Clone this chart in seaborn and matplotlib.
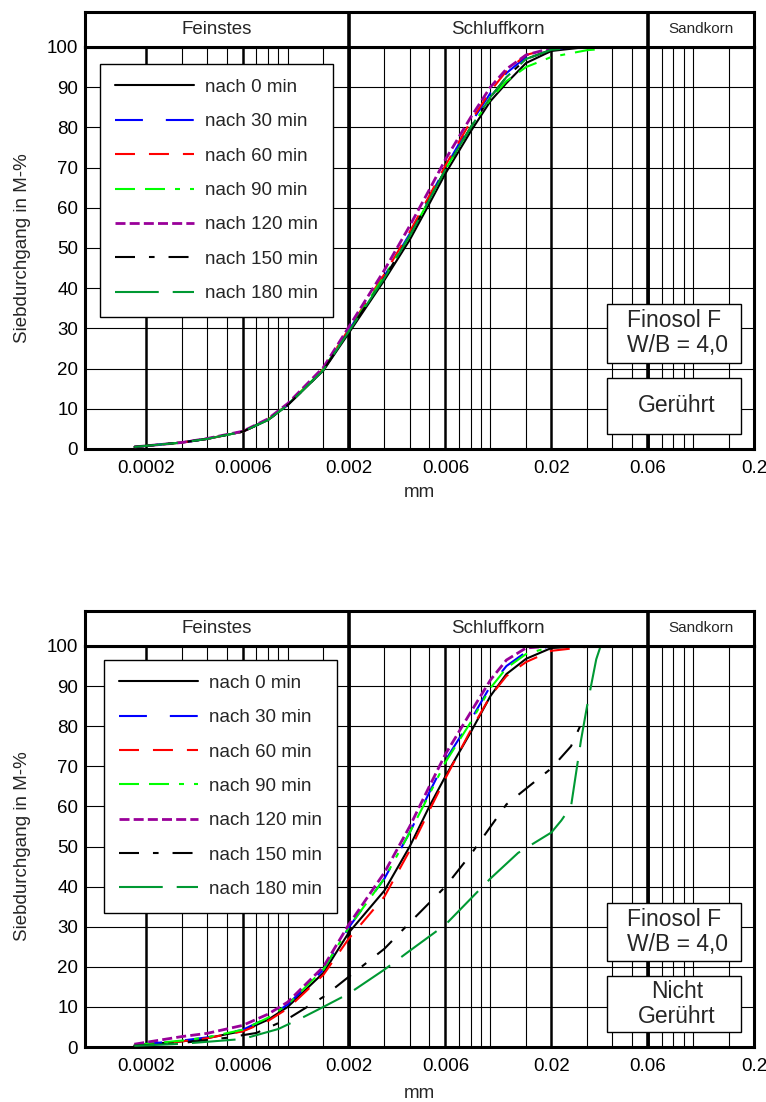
import pandas as pd
import matplotlib
matplotlib.use('Agg')
import matplotlib.pyplot as plt
from matplotlib.patches import Rectangle
from matplotlib.ticker import NullLocator
import seaborn as sns

sns.set_theme(style='white')
plt.rcParams['font.family'] = ['Liberation Sans', 'DejaVu Sans']

# Korngroesse in mm
korn = [0.000175, 0.0003, 0.0004, 0.0006, 0.0008, 0.001, 0.0015, 0.002, 0.003, 0.004,
        0.005, 0.006, 0.008, 0.01, 0.012, 0.015, 0.02, 0.03, 0.036]

# Geruehrt (oben)
oben_0 = [0.5, 1.6, 2.5, 4.3, 7.2, 10.9, 19.5, 28.8, 42.0, 52.0, 61.0, 68.5, 79.0, 86.5, 91.0, 96.0, 99.0, 100, 100]
oben_30 = [0.5, 1.6, 2.5, 4.3, 7.3, 11.0, 19.8, 29.5, 43.0, 53.5, 62.5, 70.0, 81.0, 88.5, 93.5, 97.5, 99.5, 100, 100]
oben_60 = [0.5, 1.6, 2.5, 4.3, 7.3, 11.0, 19.9, 29.8, 43.5, 54.0, 63.0, 70.5, 81.5, 89.0, 94.0, 98.0, 99.7, 100, 100]
oben_90 = [0.5, 1.6, 2.5, 4.3, 7.3, 11.0, 19.8, 29.5, 43.0, 53.0, 62.0, 69.5, 80.0, 87.0, 91.5, 95.0, 97.5, 99.2, 99.5]
oben_120 = [0.5, 1.6, 2.6, 4.4, 7.5, 11.3, 20.3, 30.3, 44.5, 55.5, 64.5, 72.0, 82.5, 90.0, 94.5, 98.0, 99.7, 100, 100]
oben_150 = [0.5, 1.6, 2.5, 4.3, 7.2, 10.9, 19.6, 29.2, 42.5, 53.0, 62.0, 69.5, 80.0, 87.5, 92.5, 97.0, 99.3, 100, 100]
oben_180 = [0.5, 1.6, 2.5, 4.3, 7.2, 10.9, 19.6, 29.2, 42.5, 53.0, 62.0, 69.5, 80.0, 87.5, 92.5, 97.0, 99.3, 100, 100]

# Nicht geruehrt (unten)
unten_0 = [0.4, 1.4, 2.2, 4.0, 6.8, 10.0, 18.5, 28.5, 39.0, 50.0, 60.0, 67.5, 78.5, 87.5, 93.0, 96.8, 99.5, 100, 100]
unten_30 = [0.5, 1.6, 2.4, 4.3, 7.3, 10.6, 19.3, 29.8, 42.0, 53.5, 63.5, 71.5, 81.5, 90.0, 95.0, 98.5, 100, 100, 100]
unten_60 = [0.4, 1.4, 2.2, 3.9, 6.5, 9.6, 18.0, 27.0, 37.5, 49.0, 59.0, 67.0, 79.0, 87.5, 92.5, 96.0, 98.8, 99.8, 100]
unten_90 = [0.5, 1.6, 2.4, 4.3, 7.3, 10.6, 19.3, 29.8, 42.0, 53.5, 63.0, 71.0, 81.0, 89.5, 94.5, 98.0, 99.8, 100, 100]
unten_120 = [0.7, 2.6, 3.4, 5.4, 8.2, 11.2, 20.0, 30.5, 43.5, 55.0, 65.0, 73.0, 83.5, 91.5, 96.5, 99.5, 100, 100, 100]
korn_150 = [0.000175, 0.0003, 0.0005, 0.0007, 0.001, 0.0015, 0.002, 0.003, 0.004, 0.006, 0.008, 0.012, 0.02, 0.025, 0.028]
unten_150 = [0.3, 1.0, 2.3, 3.5, 7.0, 12.5, 17.5, 24.5, 31.0, 40.0, 48.0, 60.5, 69.5, 75.0, 80.5]
korn_180 = [0.000175, 0.0003, 0.0006, 0.0009, 0.0012, 0.0015, 0.002, 0.003, 0.004, 0.006, 0.01,
            0.0137, 0.02, 0.0224, 0.025, 0.028, 0.03, 0.0333, 0.035]
unten_180 = [0.3, 0.8, 2.0, 4.5, 7.5, 10.0, 13.3, 19.3, 24.0, 30.5, 42.0, 48.4, 53.5, 56.5, 60.0, 76.5, 85.0, 96.7, 100]

zeiten = ['nach 0 min', 'nach 30 min', 'nach 60 min', 'nach 90 min',
          'nach 120 min', 'nach 150 min', 'nach 180 min']
farben = ['black', '#0000FF', '#FF0000', '#00FF00', '#990099', 'black', '#009933']
striche = ['-', (0, (13.4, 11)), (0, (9.6, 6.7)), (0, (9.6, 4.8, 9.6, 4.8, 2.4, 4.8, 2.4, 4.8)),
           (0, (3.6, 1.5)), (0, (9.6, 6.7, 2.7, 6.7)), (0, (21, 6.7))]
breiten = [1.5, 1.5, 1.5, 1.5, 2.0, 1.5, 1.5]

x_ticks = [0.0002, 0.0006, 0.002, 0.006, 0.02, 0.06, 0.2]
x_ticklabels = ['0.0002', '0.0006', '0.002', '0.006', '0.02', '0.06', '0.2']
gitter_fein = [0.0003, 0.0004, 0.0005, 0.0007, 0.0008, 0.0009, 0.001, 0.0015,
               0.003, 0.004, 0.005, 0.007, 0.008, 0.009, 0.01, 0.015,
               0.03, 0.04, 0.05, 0.07, 0.08, 0.09, 0.1, 0.15]
bereiche = ['Feinstes', 'Schluffkorn', 'Sandkorn']
grenzen = [0.0001, 0.002, 0.06, 0.2]

oben = pd.DataFrame({'mm': korn * 7,
                     'wert': oben_0 + oben_30 + oben_60 + oben_90 + oben_120 + oben_150 + oben_180,
                     'zeit': [z for z in zeiten for _ in korn]})
unten = pd.concat([
    pd.DataFrame({'mm': korn, 'wert': unten_0, 'zeit': zeiten[0]}),
    pd.DataFrame({'mm': korn, 'wert': unten_30, 'zeit': zeiten[1]}),
    pd.DataFrame({'mm': korn, 'wert': unten_60, 'zeit': zeiten[2]}),
    pd.DataFrame({'mm': korn, 'wert': unten_90, 'zeit': zeiten[3]}),
    pd.DataFrame({'mm': korn, 'wert': unten_120, 'zeit': zeiten[4]}),
    pd.DataFrame({'mm': korn_150, 'wert': unten_150, 'zeit': zeiten[5]}),
    pd.DataFrame({'mm': korn_180, 'wert': unten_180, 'zeit': zeiten[6]}),
])


def panel(fig, rect, head_h, df, legend_top, label_text, xlabel_y):
    ax = fig.add_axes(rect)
    hax = fig.add_axes([rect[0], rect[1] + rect[3], rect[2], head_h])

    for z, c, ls, lw in zip(zeiten, farben, striche, breiten):
        d = df[df['zeit'] == z]
        sns.lineplot(x=d['mm'], y=d['wert'], color=c, linestyle=ls, linewidth=lw,
                     label=z, estimator=None, sort=False, ax=ax, zorder=5)

    ax.set_xscale('log')
    ax.set_xlim(grenzen[0], grenzen[-1])
    ax.set_ylim(0, 100)
    ax.xaxis.set_minor_locator(NullLocator())
    ax.set_xticks(x_ticks)
    ax.set_xticklabels(x_ticklabels)
    ax.set_yticks(range(0, 101, 10))
    ax.tick_params(axis='both', length=0, labelsize=13.5, colors='black')
    ax.tick_params(axis='x', pad=8)
    ax.tick_params(axis='y', pad=5)

    for g in gitter_fein:
        ax.axvline(g, color='black', lw=0.8, zorder=1)
    for g in x_ticks:
        ax.axvline(g, color='black', lw=1.8, zorder=1)
    for g in grenzen[1:3]:
        ax.axvline(g, color='black', lw=2.6, zorder=1)
    for h in range(10, 100, 10):
        ax.axhline(h, color='black', lw=0.8, zorder=1)
    for s in ax.spines.values():
        s.set_linewidth(2.2)
        s.set_color('black')

    ax.set_xlabel('mm', fontsize=13.5)
    ax.xaxis.label.set_va('center')
    ax.xaxis.set_label_coords(0.5, xlabel_y)
    ax.set_ylabel('Siebdurchgang in M-%', fontsize=13.5)
    ax.yaxis.label.set_va('center')
    ax.yaxis.set_label_coords(-0.094, 0.5)

    leg = ax.legend(loc='upper left', bbox_to_anchor=legend_top, borderaxespad=0,
                    fontsize=13.5, frameon=True, fancybox=False, framealpha=1,
                    edgecolor='black', handlelength=4.2, handletextpad=0.6,
                    labelspacing=0.92, borderpad=0.8)
    leg.get_frame().set_linewidth(1.0)
    leg.set_zorder(10)

    ax.add_patch(Rectangle((0.78, 0.215), 0.2, 0.145, transform=ax.transAxes,
                           facecolor='white', edgecolor='black', lw=1.0, zorder=10))
    ax.text(0.885, 0.2875, 'Finosol F\nW/B = 4,0', transform=ax.transAxes, fontsize=16.5,
            ha='center', va='center', multialignment='left', linespacing=1.1, zorder=11)
    ax.add_patch(Rectangle((0.78, 0.038), 0.2, 0.139, transform=ax.transAxes,
                           facecolor='white', edgecolor='black', lw=1.0, zorder=10))
    ax.text(0.885, 0.1075, label_text, transform=ax.transAxes, fontsize=16.5,
            ha='center', va='center', multialignment='center', linespacing=1.1, zorder=11)

    hax.set_xscale('log')
    hax.set_xlim(grenzen[0], grenzen[-1])
    hax.set_ylim(0, 1)
    hax.set_xticks([])
    hax.set_yticks([])
    hax.xaxis.set_minor_locator(NullLocator())
    for s in hax.spines.values():
        s.set_linewidth(2.2)
        s.set_color('black')
    for g in grenzen[1:3]:
        hax.axvline(g, color='black', lw=2.6)
    for i, name in enumerate(bereiche):
        mitte = (grenzen[i] * grenzen[i + 1]) ** 0.5
        hax.text(mitte, 0.5, name, ha='center', va='center',
                 fontsize=13.5 if i < 2 else 11)
    return ax


fig = plt.figure(figsize=(7.66, 11.02), dpi=100)
panel(fig, [0.1110, 0.5926, 0.8734, 0.3648], 0.0318, oben, (0.0224, 0.958), 'Gerührt', -0.109)
panel(fig, [0.1110, 0.0499, 0.8734, 0.3639], 0.0318, unten, (0.028, 0.966), 'Nicht\nGerührt', -0.115)

plt.savefig('out.png', dpi=100)
